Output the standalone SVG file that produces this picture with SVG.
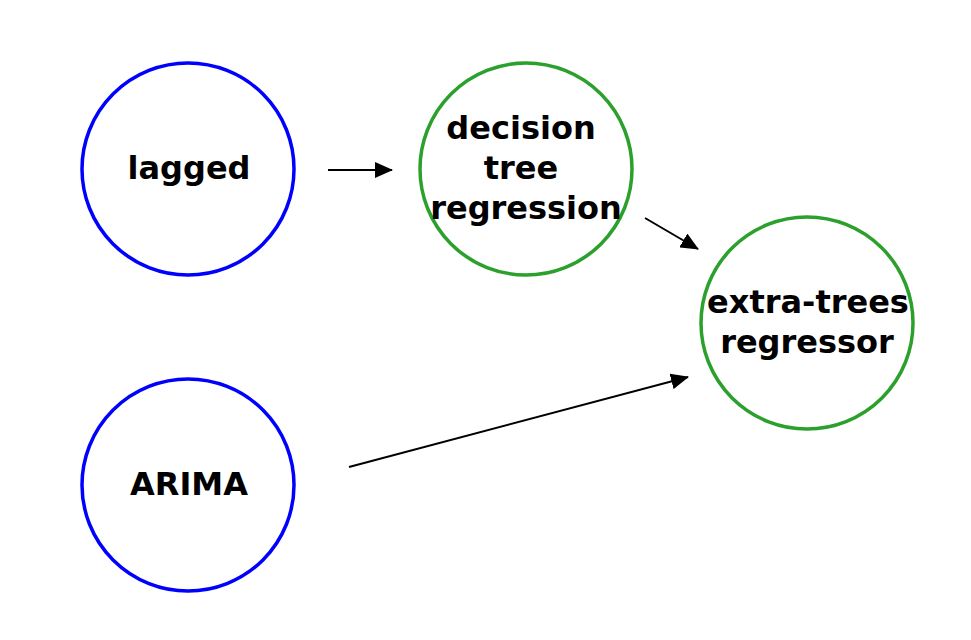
<svg xmlns="http://www.w3.org/2000/svg" width="971" height="640" viewBox="0 0 971 640">
<style>
.n{fill:#fff;stroke-width:3.5}
.b{stroke:#0000ff}
.g{stroke:#2ca02c}
text{font-family:"DejaVu Sans",Verdana,sans-serif;font-weight:bold;font-size:32px;fill:#000;text-anchor:middle;dominant-baseline:central}
.e{stroke:#000;stroke-width:2;fill:none;marker-end:url(#a)}
</style>
<defs>
<marker id="a" viewBox="0 0 18 16" refX="17" refY="8" markerWidth="18" markerHeight="16" markerUnits="userSpaceOnUse" orient="auto">
<path d="M0,0L18,8L0,16z" fill="#000"/>
</marker>
</defs>
<rect width="971" height="640" fill="#fff"/>
<g id="connectors">
<line class="e" x1="328" y1="170" x2="392" y2="170"/>
<line class="e" x1="645" y1="218" x2="698" y2="249"/>
<line class="e" x1="349" y1="467" x2="688" y2="377"/>
</g>
<g id="lagged">
<circle class="n b" cx="188" cy="169" r="106"/>
<text x="189" y="168">lagged</text>
</g>
<g id="arima">
<circle class="n b" cx="188" cy="485" r="106"/>
<text x="189" y="484">ARIMA</text>
</g>
<g id="dtr">
<circle class="n g" cx="526" cy="169" r="106"/>
<text x="521" y="128">decision</text>
<text x="521" y="168">tree</text>
<text x="526" y="208">regression</text>
</g>
<g id="etr">
<circle class="n g" cx="807" cy="323" r="106"/>
<text x="808" y="302">extra-trees</text>
<text x="807" y="342">regressor</text>
</g>
</svg>
